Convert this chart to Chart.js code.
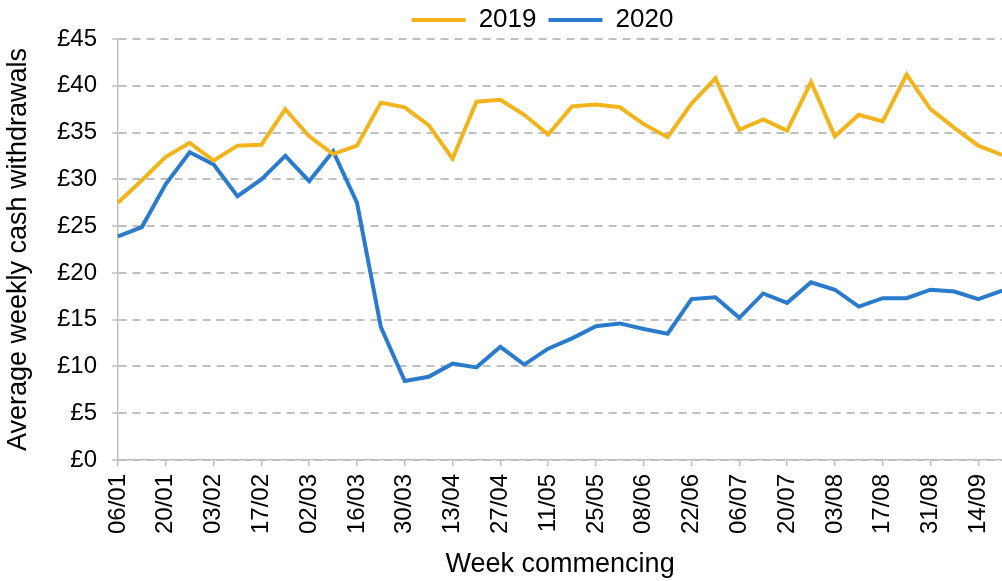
<!DOCTYPE html>
<html>
<head>
<meta charset="utf-8">
<script src="https://cdn.jsdelivr.net/npm/chart.js@4"></script>
<style>
  html, body { margin: 0; padding: 0; background: #fff; overflow: hidden; }
  #wrap { width: 1039px; height: 581px; }
</style>
</head>
<body>
<div id="wrap"><canvas id="cashChart"></canvas></div>
<script>
// Semaines (lundi) - une étiquette sur deux est affichée
const semaines = [
    '06/01', '13/01', '20/01', '27/01', '03/02', '10/02', '17/02', '24/02',
    '02/03', '09/03', '16/03', '23/03', '30/03', '06/04', '13/04', '20/04',
    '27/04', '04/05', '11/05', '18/05', '25/05', '01/06', '08/06', '15/06',
    '22/06', '29/06', '06/07', '13/07', '20/07', '27/07', '03/08', '10/08',
    '17/08', '24/08', '31/08', '07/09', '14/09', '21/09'
];

const retraits2019 = [
    27.5, 29.9, 32.4, 33.9, 32.0, 33.6, 33.7, 37.5, 34.6, 32.7,
    33.6, 38.2, 37.7, 35.8, 32.2, 38.3, 38.5, 36.9, 34.8, 37.8,
    38.0, 37.7, 35.9, 34.5, 38.1, 40.8, 35.3, 36.4, 35.2, 40.4,
    34.6, 36.9, 36.2, 41.2, 37.5, 35.5, 33.6, 32.6
];

const retraits2020 = [
    23.9, 24.9, 29.5, 32.9, 31.6, 28.2, 30.0, 32.5, 29.8, 33.0,
    27.5, 14.2, 8.45, 8.9, 10.3, 9.9, 12.1, 10.2, 11.9, 13.0,
    14.3, 14.6, 14.0, 13.5, 17.2, 17.4, 15.2, 17.8, 16.8, 19.0,
    18.2, 16.4, 17.3, 17.3, 18.2, 18.0, 17.2, 18.1
];

const gris = '#bfbfbf';
const police = 'Liberation Sans, Arial, sans-serif';

// recale la légende (centrage et hauteur) comme dans l'original
const decalageLegende = {
    id: 'decalageLegende',
    afterLayout(chart) {
        chart.legend.left += 23;
        chart.legend.right += 23;
        chart.legend.top += 4;
        chart.legend.bottom += 4;
    }
};

new Chart(document.getElementById('cashChart'), {
    type: 'line',
    data: {
        labels: semaines,
        datasets: [
            {
                label: '2019',
                data: retraits2019,
                borderColor: '#f3b41b',
                backgroundColor: '#f3b41b',
                borderWidth: 4,
                pointRadius: 0,
                pointStyle: 'line',
                tension: 0
            },
            {
                label: '2020',
                data: retraits2020,
                borderColor: '#2a7bcb',
                backgroundColor: '#2a7bcb',
                borderWidth: 4,
                pointRadius: 0,
                pointStyle: 'line',
                tension: 0
            }
        ]
    },
    plugins: [decalageLegende],
    options: {
        responsive: true,
        maintainAspectRatio: false,
        animation: false,
        layout: { padding: { left: 0, top: -9, right: 0, bottom: 0 } },
        plugins: {
            legend: {
                position: 'top',
                labels: {
                    usePointStyle: true,
                    pointStyleWidth: 54,
                    padding: 12,
                    color: '#000',
                    font: { family: police, size: 26 }
                }
            },
            tooltip: { enabled: false }
        },
        scales: {
            x: {
                offset: false,
                afterFit(scale) { scale.height = 121; },
                grid: {
                    drawOnChartArea: false,
                    tickLength: 6,
                    tickColor: ctx => (ctx.index % 2 === 0 ? gris : 'rgba(0,0,0,0)'),
                    lineWidth: 1.5
                },
                border: { color: gris, width: 1.5 },
                ticks: {
                    autoSkip: false,
                    maxRotation: 90,
                    minRotation: 90,
                    padding: 8,
                    color: '#000',
                    font: { family: police, size: 24 },
                    callback(value, index) {
                        return index % 2 === 0 ? semaines[index] : '';
                    }
                },
                title: {
                    display: true,
                    text: 'Week commencing',
                    color: '#000',
                    font: { family: police, size: 27 },
                    padding: { top: 0, bottom: 0 }
                }
            },
            y: {
                min: 0,
                max: 45,
                afterFit(scale) { scale.width = 118; },
                grid: {
                    color: gris,
                    lineWidth: 2,
                    tickLength: 6,
                    tickColor: gris,
                    tickWidth: 1.5
                },
                border: { color: gris, width: 1.5, dash: [8, 6] },
                ticks: {
                    stepSize: 5,
                    padding: 15,
                    color: '#000',
                    font: { family: police, size: 24 },
                    callback: v => '£' + v
                },
                title: {
                    display: true,
                    text: 'Average weekly cash withdrawals',
                    color: '#000',
                    font: { family: police, size: 27 },
                    padding: { top: 2, bottom: 0 }
                }
            }
        }
    }
});
</script>
</body>
</html>
